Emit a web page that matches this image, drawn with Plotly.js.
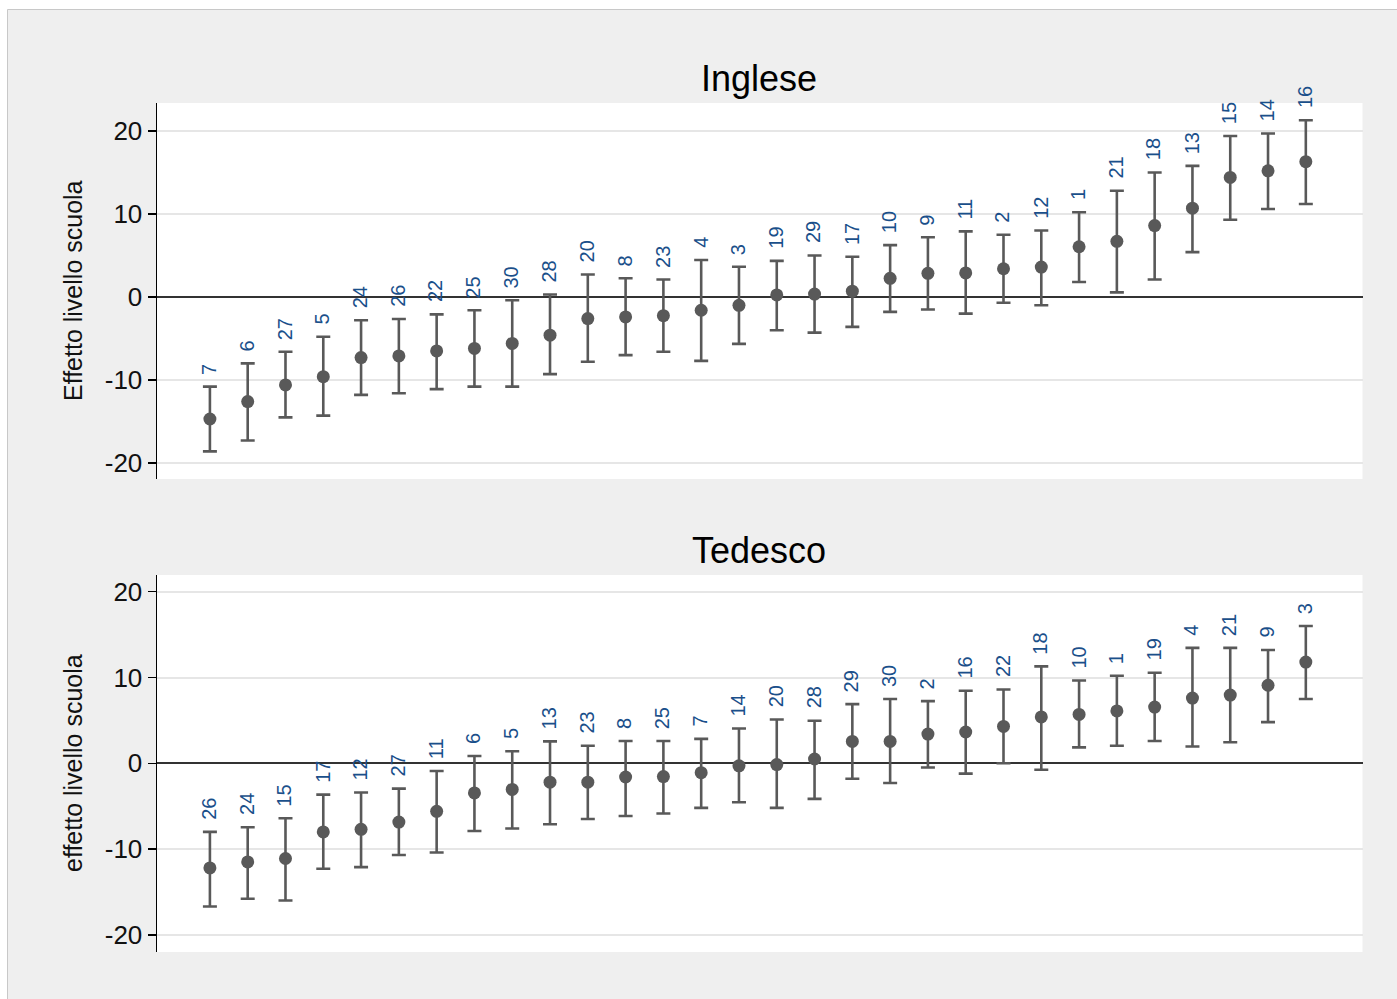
<!DOCTYPE html>
<html>
<head>
<meta charset="utf-8">
<script src="https://cdn.plot.ly/plotly-3.0.1.min.js"></script>
<style>html,body{margin:0;padding:0;background:#fff;}#chart{width:1397px;height:999px;}</style>
</head>
<body>
<div id="chart"></div>
<script>
// Inglese (English) – school effects sorted
const ingSchools = ["7","6","27","5","24","26","22","25","30","28","20","8","23","4","3","19","29","17","10","9","11","2","12","1","21","18","13","15","14","16"];
const ingEst = [-14.7,-12.6,-10.6,-9.6,-7.3,-7.1,-6.5,-6.2,-5.6,-4.6,-2.6,-2.4,-2.25,-1.6,-1.0,0.25,0.35,0.7,2.25,2.85,2.9,3.4,3.6,6.05,6.7,8.6,10.7,14.4,15.2,16.3];
const ingHi = [-10.8,-8.0,-6.6,-4.8,-2.8,-2.65,-2.1,-1.6,-0.4,0.3,2.7,2.25,2.1,4.45,3.65,4.35,5.0,4.85,6.25,7.2,7.9,7.5,8.0,10.2,12.8,15.0,15.8,19.4,19.7,21.3];
const ingLo = [-18.6,-17.3,-14.5,-14.3,-11.8,-11.6,-11.1,-10.8,-10.8,-9.3,-7.8,-7.0,-6.6,-7.7,-5.65,-4.0,-4.3,-3.6,-1.8,-1.5,-2.0,-0.7,-1.0,1.8,0.55,2.1,5.4,9.3,10.6,11.2];

// Tedesco (German) – school effects sorted
const tedSchools = ["26","24","15","17","12","27","11","6","5","13","23","8","25","7","14","20","28","29","30","2","16","22","18","10","1","19","4","21","9","3"];
const tedEst = [-12.2,-11.5,-11.1,-8.0,-7.7,-6.85,-5.6,-3.45,-3.05,-2.2,-2.2,-1.6,-1.55,-1.1,-0.3,-0.15,0.5,2.55,2.55,3.4,3.65,4.3,5.4,5.7,6.1,6.55,7.6,7.95,9.1,11.8];
const tedHi = [-8.0,-7.45,-6.4,-3.65,-3.4,-2.95,-0.9,0.85,1.4,2.55,2.05,2.6,2.6,2.85,4.05,5.1,4.95,6.9,7.5,7.25,8.45,8.6,11.3,9.65,10.2,10.55,13.45,13.45,13.2,16.0];
const tedLo = [-16.7,-15.8,-16.0,-12.3,-12.1,-10.7,-10.4,-7.9,-7.6,-7.1,-6.5,-6.15,-5.85,-5.2,-4.55,-5.2,-4.15,-1.8,-2.3,-0.5,-1.2,0.0,-0.75,1.85,2.05,2.6,1.95,2.45,4.8,7.5];

const yTickVals = [-20,-10,0,10,20];
const yTickText = ["-20","-10","0","10","20"];
const panelTitles = ["Inglese","Tedesco"];
const yTitles = ["Effetto livello scuola","effetto livello scuola"];

const W = 1397, H = 999;
const px = v => v / W;
const py = v => 1 - v / H;

const FONT = "Liberation Sans, Arial, Helvetica, sans-serif";
const markColor = "#595959";
const labelColor = "#1a4f8a";

function pointTrace(schools, est, hi, lo, xa, ya) {
  return {
    type: "scatter", mode: "markers",
    x: schools, y: est, xaxis: xa, yaxis: ya,
    marker: {color: markColor, size: 13},
    error_y: {
      type: "data", symmetric: false,
      array: hi.map((h, i) => h - est[i]),
      arrayminus: lo.map((l, i) => est[i] - l),
      color: markColor, thickness: 2.6, width: 7
    },
    hoverinfo: "x+y", showlegend: false
  };
}

const data = [
  pointTrace(ingSchools, ingEst, ingHi, ingLo, "x", "y"),
  pointTrace(tedSchools, tedEst, tedHi, tedLo, "x2", "y2")
];

// category axes: annotation x is the category index
function labels(schools, hi, xr, yr) {
  return schools.map((s, i) => ({
    xref: xr, yref: yr, x: i, y: hi[i], text: s,
    textangle: -90, showarrow: false, yanchor: "bottom", xanchor: "center",
    yshift: 10, xshift: -1, font: {family: FONT, size: 20, color: labelColor}
  }));
}

const yAxisCommon = {
  tickvals: yTickVals, ticktext: yTickText,
  ticks: "outside", ticklen: 8, tickwidth: 1.5, tickcolor: "#000",
  showline: true, linecolor: "#000", linewidth: 1.5,
  showgrid: true, gridcolor: "#e6e6e6", gridwidth: 2,
  zeroline: true, zerolinecolor: "#333", zerolinewidth: 2,
  tickfont: {family: FONT, size: 26, color: "#111"},
  fixedrange: true
};
const xAxisCommon = {
  type: "category", range: [-1.4, 30.5],
  showgrid: false, zeroline: false, showline: false,
  showticklabels: false, ticks: "", fixedrange: true
};

const layout = {
  width: W, height: H,
  margin: {l: 0, r: 0, t: 0, b: 0},
  paper_bgcolor: "#ffffff", plot_bgcolor: "rgba(0,0,0,0)",
  showlegend: false,
  xaxis: Object.assign({}, xAxisCommon, {domain: [px(157), px(1362.5)], anchor: "y", categoryorder: "array", categoryarray: ingSchools}),
  yaxis: Object.assign({}, yAxisCommon, {domain: [py(479), py(103)], range: [-21.93, 23.37], anchor: "x"}),
  xaxis2: Object.assign({}, xAxisCommon, {domain: [px(157), px(1362.5)], anchor: "y2", categoryorder: "array", categoryarray: tedSchools}),
  yaxis2: Object.assign({}, yAxisCommon, {domain: [py(952), py(575)], range: [-22.0, 21.95], anchor: "x2"}),
  shapes: [
    {type: "rect", xref: "paper", yref: "paper", layer: "below",
     x0: px(7.5), x1: 1.01, y0: -0.01, y1: py(9.5),
     fillcolor: "#efefef", line: {color: "#c8c8c8", width: 1}},
    {type: "rect", xref: "paper", yref: "paper", layer: "below",
     x0: px(157), x1: px(1362.5), y0: py(479), y1: py(103),
     fillcolor: "#ffffff", line: {width: 0}},
    {type: "rect", xref: "paper", yref: "paper", layer: "below",
     x0: px(157), x1: px(1362.5), y0: py(952), y1: py(575),
     fillcolor: "#ffffff", line: {width: 0}}
  ],
  annotations: [
    {xref: "paper", yref: "paper", x: px(759), y: py(78), text: panelTitles[0], showarrow: false,
     xanchor: "center", yanchor: "middle", font: {family: FONT, size: 36, color: "#000"}},
    {xref: "paper", yref: "paper", x: px(759), y: py(550), text: panelTitles[1], showarrow: false,
     xanchor: "center", yanchor: "middle", font: {family: FONT, size: 36, color: "#000"}},
    {xref: "paper", yref: "paper", x: px(73), y: py(291), text: yTitles[0], showarrow: false, textangle: -90,
     xanchor: "center", yanchor: "middle", font: {family: FONT, size: 25, color: "#111"}},
    {xref: "paper", yref: "paper", x: px(73), y: py(763), text: yTitles[1], showarrow: false, textangle: -90,
     xanchor: "center", yanchor: "middle", font: {family: FONT, size: 25, color: "#111"}}
  ].concat(labels(ingSchools, ingHi, "x", "y")).concat(labels(tedSchools, tedHi, "x2", "y2"))
};

Plotly.newPlot("chart", data, layout, {displayModeBar: false, staticPlot: true});
</script>
</body>
</html>
